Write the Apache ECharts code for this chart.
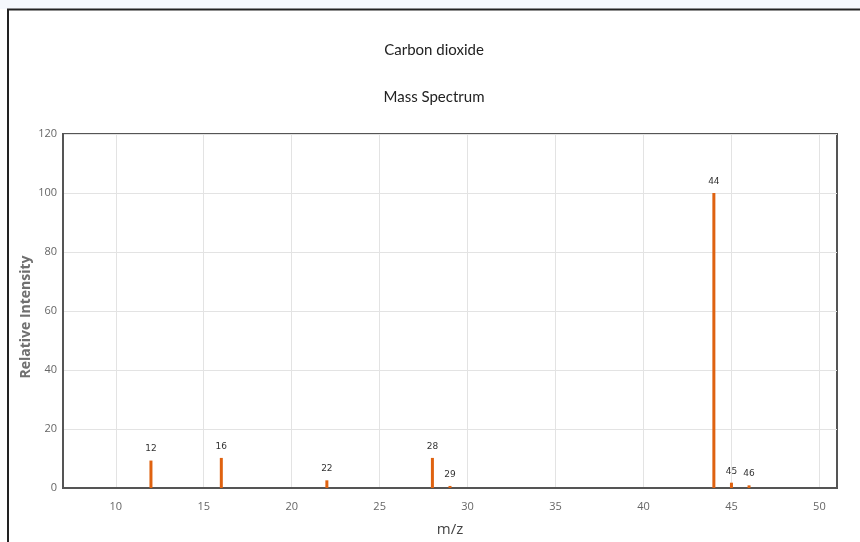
<!DOCTYPE html>
<html>
<head>
<meta charset="utf-8">
<script src="https://cdn.jsdelivr.net/npm/echarts@6/dist/echarts.min.js"></script>
<style>
html,body{margin:0;padding:0;background:#fff;}
#chart{width:860px;height:542px;}
</style>
</head>
<body>
<div id="chart"></div>
<script>
const mzValues = [12, 16, 22, 28, 29, 44, 45, 46];
const intensities = [9.3, 10.2, 2.6, 10.2, 0.7, 100, 1.8, 0.9];
const xTicks = [10, 15, 20, 25, 30, 35, 40, 45, 50];
const yTicks = [0, 20, 40, 60, 80, 100, 120];

const chart = echarts.init(document.getElementById('chart'));
const data = mzValues.map((m, i) => [m, intensities[i]]);

chart.setOption({
  animation: false,
  backgroundColor: '#fff',
  graphic: [
    {type: 'rect', shape: {x: 0, y: 0, width: 860, height: 9}, style: {fill: '#f4f7fc'}, silent: true},
    {type: 'line', shape: {x1: 7, y1: 9.5, x2: 860, y2: 9.5}, style: {stroke: '#222', lineWidth: 2}, silent: true},
    {type: 'line', shape: {x1: 8, y1: 9, x2: 8, y2: 542}, style: {stroke: '#222', lineWidth: 2}, silent: true}
  ],
  title: [
    {text: 'Carbon dioxide', left: 429, top: 38, textAlign: 'center',
     textStyle: {fontFamily: 'Lato', fontSize: 15, fontWeight: 'normal', color: '#222'}},
    {text: 'Mass Spectrum', left: 429, top: 85, textAlign: 'center',
     textStyle: {fontFamily: 'Lato', fontSize: 15, fontWeight: 'normal', color: '#222'}}
  ],
  grid: {left: 63, right: 23, top: 134, bottom: 52, show: true, borderColor: '#555', borderWidth: 2, containLabel: false},
  xAxis: {
    type: 'value', min: 7, max: 51,
    name: 'm/z', nameLocation: 'middle', nameGap: 34, nameMoveOverlap: false,
    nameTextStyle: {fontFamily: 'Open Sans', fontSize: 15, color: '#444'},
    axisLine: {show: true, lineStyle: {color: '#555', width: 2}},
    axisTick: {show: false, customValues: xTicks},
    axisLabel: {color: '#666', fontSize: 11, fontFamily: 'Open Sans', margin: 13,
      customValues: xTicks, formatter: v => String(v)},
    splitLine: {show: true, lineStyle: {color: '#e3e3e3'}}
  },
  yAxis: {
    type: 'value', min: 0, max: 120, interval: 20,
    name: 'Relative Intensity', nameLocation: 'middle', nameGap: 30, nameMoveOverlap: false,
    nameTextStyle: {fontFamily: 'Open Sans', fontSize: 14, fontWeight: 'bold', color: '#707070',
      padding: [0, 12, 0, 0]},
    axisLine: {show: true, lineStyle: {color: '#555', width: 2}},
    axisTick: {show: false},
    axisLabel: {color: '#666', fontSize: 11, fontFamily: 'Open Sans', margin: 6},
    splitLine: {show: true, lineStyle: {color: '#e3e3e3'}}
  },
  series: [{
    type: 'bar',
    data: data,
    barWidth: 3,
    itemStyle: {color: '#df6210'},
    label: {show: true, position: 'top', distance: 7, fontSize: 9, color: '#333',
      fontFamily: 'DejaVu Sans', formatter: p => String(p.value[0])}
  }]
});
</script>
</body>
</html>
